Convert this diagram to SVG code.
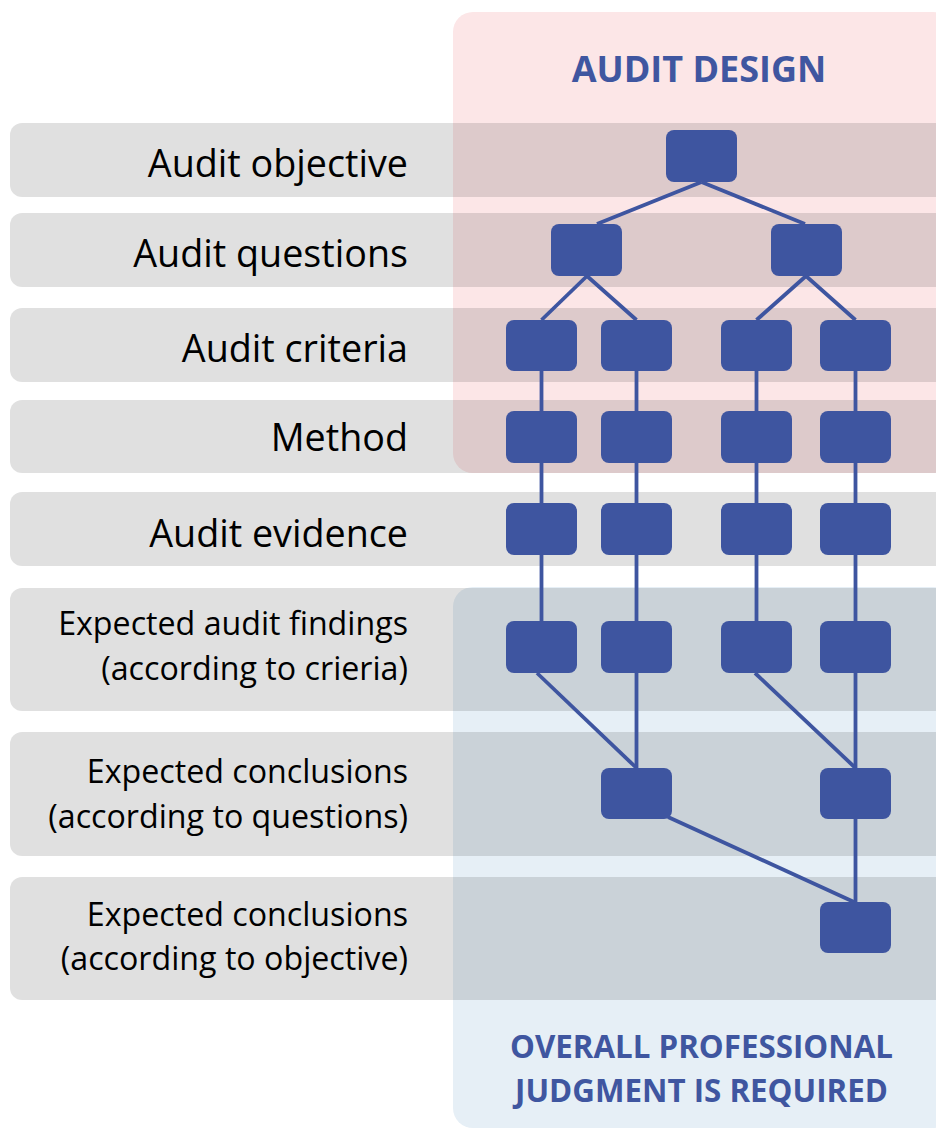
<svg xmlns="http://www.w3.org/2000/svg" width="936" height="1128" viewBox="0 0 936 1128">
  <style>
    .row { fill: #000000; fill-opacity: 0.122; }
    .lbl { font-family: "Open Sans", "Liberation Sans", sans-serif; font-size: 37.7px; fill: #000000; text-anchor: end; }
    .lbl2 { font-family: "Open Sans", "Liberation Sans", sans-serif; font-size: 32.2px; fill: #000000; text-anchor: end; }
    .title { font-family: "Open Sans", "Liberation Sans", sans-serif; font-weight: bold; fill: #3f56a0; text-anchor: middle; }
    .node { fill: #3e55a0; }
    .conn line { stroke: #3e55a0; stroke-width: 3.8; fill: none; }
  </style>

  <!-- panels -->
  <g id="panel-design">
    <rect x="453" y="12" width="500" height="461" rx="20" fill="#fce6e7"/>
    <text class="title" x="699" y="82" font-size="36">AUDIT DESIGN</text>
  </g>
  <g id="panel-judgment">
    <rect x="453" y="587" width="500" height="541" rx="20" fill="#e6eff6"/>
    <text class="title" x="701.5" y="1058" font-size="31.3">OVERALL PROFESSIONAL</text>
    <text class="title" x="701.5" y="1102" font-size="31.3">JUDGMENT IS REQUIRED</text>
  </g>

  <!-- row bands with labels -->
  <g id="row-objective">
    <rect class="row" x="10" y="123" width="960" height="74" rx="12"/>
    <text class="lbl" x="408" y="177">Audit objective</text>
  </g>
  <g id="row-questions">
    <rect class="row" x="10" y="213" width="960" height="74" rx="12"/>
    <text class="lbl" x="408" y="267">Audit questions</text>
  </g>
  <g id="row-criteria">
    <rect class="row" x="10" y="308" width="960" height="74" rx="12"/>
    <text class="lbl" x="408" y="362">Audit criteria</text>
  </g>
  <g id="row-method">
    <rect class="row" x="10" y="400" width="960" height="73" rx="12"/>
    <text class="lbl" x="408" y="451">Method</text>
  </g>
  <g id="row-evidence">
    <rect class="row" x="10" y="492" width="960" height="74" rx="12"/>
    <text class="lbl" x="408" y="547">Audit evidence</text>
  </g>
  <g id="row-findings">
    <rect class="row" x="10" y="588" width="960" height="123" rx="12"/>
    <text class="lbl2" x="408" y="635">Expected audit findings</text>
    <text class="lbl2" x="408" y="680">(according to crieria)</text>
  </g>
  <g id="row-conclusions-q">
    <rect class="row" x="10" y="732" width="960" height="124" rx="12"/>
    <text class="lbl2" x="408" y="783">Expected conclusions</text>
    <text class="lbl2" x="408" y="828">(according to questions)</text>
  </g>
  <g id="row-conclusions-o">
    <rect class="row" x="10" y="877" width="960" height="123" rx="12"/>
    <text class="lbl2" x="408" y="926">Expected conclusions</text>
    <text class="lbl2" x="408" y="970">(according to objective)</text>
  </g>

  <!-- connectors -->
  <g id="connectors" class="conn">
    <line x1="701.5" y1="182" x2="597" y2="224"/>
    <line x1="701.5" y1="182" x2="805" y2="224"/>
    <line x1="587" y1="276" x2="541.5" y2="320"/>
    <line x1="587" y1="276" x2="636.5" y2="320"/>
    <line x1="806" y1="276" x2="756.5" y2="320"/>
    <line x1="806" y1="276" x2="855.5" y2="320"/>
    <line x1="541.5" y1="360" x2="541.5" y2="640"/>
    <line x1="636.5" y1="360" x2="636.5" y2="790"/>
    <line x1="756.5" y1="360" x2="756.5" y2="640"/>
    <line x1="855.5" y1="360" x2="855.5" y2="930"/>
    <line x1="537" y1="673" x2="636.5" y2="768"/>
    <line x1="755" y1="673" x2="855.5" y2="768"/>
    <line x1="668" y1="817" x2="854" y2="902"/>
  </g>

  <!-- nodes -->
  <g id="n-objective"><rect class="node" x="666" y="130" width="71" height="52" rx="8"/></g>
  <g id="n-question-1"><rect class="node" x="551" y="224" width="71" height="52" rx="8"/></g>
  <g id="n-question-2"><rect class="node" x="771" y="224" width="71" height="52" rx="8"/></g>

  <g id="n-criteria-1"><rect class="node" x="506" y="320" width="71" height="51" rx="8"/></g>
  <g id="n-criteria-2"><rect class="node" x="601" y="320" width="71" height="51" rx="8"/></g>
  <g id="n-criteria-3"><rect class="node" x="721" y="320" width="71" height="51" rx="8"/></g>
  <g id="n-criteria-4"><rect class="node" x="820" y="320" width="71" height="51" rx="8"/></g>

  <g id="n-method-1"><rect class="node" x="506" y="411" width="71" height="52" rx="8"/></g>
  <g id="n-method-2"><rect class="node" x="601" y="411" width="71" height="52" rx="8"/></g>
  <g id="n-method-3"><rect class="node" x="721" y="411" width="71" height="52" rx="8"/></g>
  <g id="n-method-4"><rect class="node" x="820" y="411" width="71" height="52" rx="8"/></g>

  <g id="n-evidence-1"><rect class="node" x="506" y="503" width="71" height="52" rx="8"/></g>
  <g id="n-evidence-2"><rect class="node" x="601" y="503" width="71" height="52" rx="8"/></g>
  <g id="n-evidence-3"><rect class="node" x="721" y="503" width="71" height="52" rx="8"/></g>
  <g id="n-evidence-4"><rect class="node" x="820" y="503" width="71" height="52" rx="8"/></g>

  <g id="n-findings-1"><rect class="node" x="506" y="621" width="71" height="52" rx="8"/></g>
  <g id="n-findings-2"><rect class="node" x="601" y="621" width="71" height="52" rx="8"/></g>
  <g id="n-findings-3"><rect class="node" x="721" y="621" width="71" height="52" rx="8"/></g>
  <g id="n-findings-4"><rect class="node" x="820" y="621" width="71" height="52" rx="8"/></g>

  <g id="n-conclusion-q-1"><rect class="node" x="601" y="768" width="71" height="51" rx="8"/></g>
  <g id="n-conclusion-q-2"><rect class="node" x="820" y="768" width="71" height="51" rx="8"/></g>

  <g id="n-conclusion-o"><rect class="node" x="820" y="902" width="71" height="51" rx="8"/></g>
</svg>
